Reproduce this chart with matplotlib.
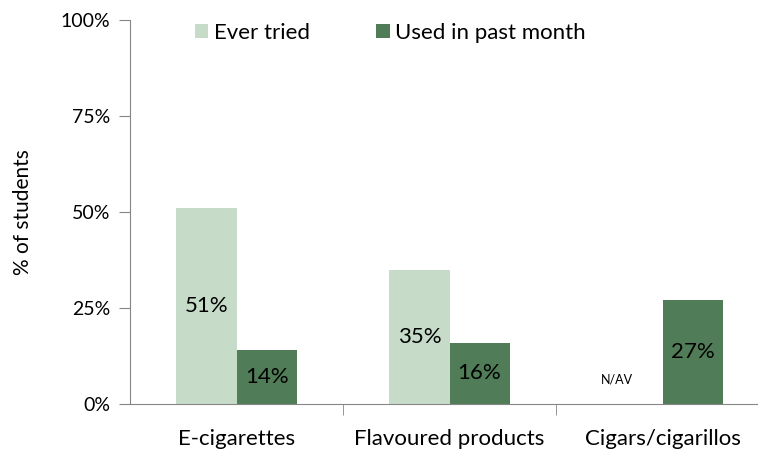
import numpy as np
import matplotlib.pyplot as plt

plt.rcParams['font.family'] = ['Lato', 'DejaVu Sans']

categories = ["E-cigarettes", "Flavoured products", "Cigars/cigarillos"]
ever_tried = [51, 35, None]
past_month = [14, 16, 27]

light_green = "#c6dcc8"
dark_green = "#507d57"
axis_grey = "#868686"

fig = plt.figure(figsize=(7.58, 4.54), dpi=100)
# axes run a little past the right edge of the figure
ax = fig.add_axes([130 / 758, 50 / 454, 639 / 758, 384 / 454])

x = np.arange(len(categories))
w = 0.282

tried_vals = [v if v is not None else 0 for v in ever_tried]
ax.bar(x - w / 2, tried_vals, w, color=light_green, label="Ever tried")
ax.bar(x + w / 2, past_month, w, color=dark_green, label="Used in past month")

for i, v in enumerate(ever_tried):
    if v is None:
        ax.text(x[i] - 0.214, 6.5, "N/AV", ha="center", va="center", fontsize=9)
    else:
        ax.text(x[i] - w / 2, v / 2, f"{v}%", ha="center", va="center", fontsize=16)
for i, v in enumerate(past_month):
    ax.text(x[i] + w / 2, v / 2, f"{v}%", ha="center", va="center", fontsize=16)

ax.set_xlim(-0.5, 2.5)
ax.set_ylim(0, 100)
ax.set_yticks([0, 25, 50, 75, 100])
ax.set_yticklabels(["0%", "25%", "50%", "75%", "100%"], fontsize=14)
ax.set_xticks(x)
ax.set_xticklabels(categories, fontsize=16)
ax.tick_params(axis="x", length=0, pad=18)
ax.set_xticks([0.5, 1.5, 2.5], minor=True)
ax.tick_params(axis="x", which="minor", length=8, color=axis_grey)
ax.tick_params(axis="y", length=8, color=axis_grey, pad=6)

for side in ["top", "right"]:
    ax.spines[side].set_visible(False)
for side in ["left", "bottom"]:
    ax.spines[side].set_color(axis_grey)

ax.set_ylabel("% of students", fontsize=15)
ax.yaxis.set_label_coords(-0.152, 0.5)

ax.legend(loc="upper left", bbox_to_anchor=(0.07, 1.045), ncol=2, frameon=False,
          fontsize=16, handlelength=0.6, handleheight=0.6, handletextpad=0.25,
          columnspacing=3.0)

fig.savefig("out.png", dpi=100)
